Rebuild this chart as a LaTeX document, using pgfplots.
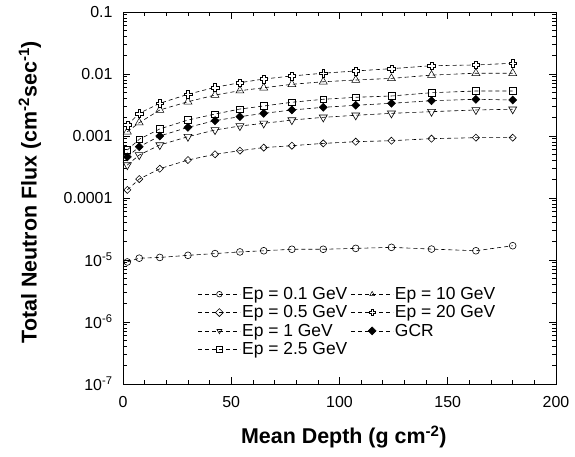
\documentclass[border=0pt]{standalone}
\usepackage{fontspec}
\setmainfont{Liberation Sans}
\usepackage{pgfplots}
\pgfplotsset{compat=1.18}

% open plus-shaped mark
\pgfdeclareplotmark{ocross}{%
  \pgfpathmoveto{\pgfqpoint{-0.38\pgfplotmarksize}{\pgfplotmarksize}}%
  \pgfpathlineto{\pgfqpoint{0.38\pgfplotmarksize}{\pgfplotmarksize}}%
  \pgfpathlineto{\pgfqpoint{0.38\pgfplotmarksize}{0.38\pgfplotmarksize}}%
  \pgfpathlineto{\pgfqpoint{\pgfplotmarksize}{0.38\pgfplotmarksize}}%
  \pgfpathlineto{\pgfqpoint{\pgfplotmarksize}{-0.38\pgfplotmarksize}}%
  \pgfpathlineto{\pgfqpoint{0.38\pgfplotmarksize}{-0.38\pgfplotmarksize}}%
  \pgfpathlineto{\pgfqpoint{0.38\pgfplotmarksize}{-\pgfplotmarksize}}%
  \pgfpathlineto{\pgfqpoint{-0.38\pgfplotmarksize}{-\pgfplotmarksize}}%
  \pgfpathlineto{\pgfqpoint{-0.38\pgfplotmarksize}{-0.38\pgfplotmarksize}}%
  \pgfpathlineto{\pgfqpoint{-\pgfplotmarksize}{-0.38\pgfplotmarksize}}%
  \pgfpathlineto{\pgfqpoint{-\pgfplotmarksize}{0.38\pgfplotmarksize}}%
  \pgfpathlineto{\pgfqpoint{-0.38\pgfplotmarksize}{0.38\pgfplotmarksize}}%
  \pgfpathclose
  \pgfusepathqfillstroke
}

\begin{document}
\begin{tikzpicture}
\path[use as bounding box] (0,0) rectangle (575bp,457bp);
\begin{axis}[
  at={(123bp,73bp)}, anchor=south west,
  scale only axis, width=433bp, height=372bp,
  xmin=0, xmax=200,
  ymode=log, ymin=1e-7, ymax=0.1,
  xtick={0,50,100,150,200},
  xticklabels={0,50,100,150,200},
  minor x tick num=4,
  ytick={1e-7,1e-6,1e-5,1e-4,1e-3,1e-2,1e-1},
  yticklabels={10\textsuperscript{-7},10\textsuperscript{-6},10\textsuperscript{-5},0.0001,0.001,0.01,0.1},
  minor ytick={2e-7,3e-7,4e-7,5e-7,6e-7,7e-7,8e-7,9e-7,
    2e-6,3e-6,4e-6,5e-6,6e-6,7e-6,8e-6,9e-6,
    2e-5,3e-5,4e-5,5e-5,6e-5,7e-5,8e-5,9e-5,
    2e-4,3e-4,4e-4,5e-4,6e-4,7e-4,8e-4,9e-4,
    2e-3,3e-3,4e-3,5e-3,6e-3,7e-3,8e-3,9e-3,
    2e-2,3e-2,4e-2,5e-2,6e-2,7e-2,8e-2,9e-2},
  tick align=inside,
  major tick length=7bp, minor tick length=4bp,
  axis line style={line width=0.9pt},
  every tick/.style={black, line width=0.7pt},
  tick label style={font=\fontsize{16}{18}\selectfont},
  xticklabel style={yshift=-9bp},
  yticklabel style={xshift=-7bp},
  xlabel={\textbf{Mean Depth (g cm\textsuperscript{-2})}},
  ylabel={\textbf{Total Neutron Flux (cm\textsuperscript{-2}sec\textsuperscript{-1})}},
  label style={font=\fontsize{21.5}{24}\selectfont},
  xlabel style={at={(axis description cs:0.51,-0.142)}, anchor=center},
  ylabel style={at={(axis description cs:-0.215,0.516)}, anchor=center},
  legend columns=2,
  legend cell align=left,
  legend style={at={(axis description cs:0.173,0.262)}, anchor=north west,
    draw=none, fill=none, inner sep=0pt,
    font=\fontsize{17.5}{18}\selectfont,
    nodes={inner xsep=1.5bp, inner ysep=0.6bp},
    row sep=3.5bp,
    /tikz/every even column/.append style={column sep=2bp}},
  legend image code/.code={%
    \draw[mark repeat=2,mark phase=2,mark size=2.8bp]
      plot coordinates {(0bp,0bp) (21bp,0bp) (42bp,0bp)};},
  every axis plot/.append style={black, line width=0.6pt,
    dash pattern=on 4bp off 3bp,
    mark options={solid, fill=white, line width=0.5pt}},
]
\addplot[mark=o, mark size=3.4bp, mark options={solid, fill=white}] coordinates {
  (2,9.3e-6) (7.5,1.07e-5) (17,1.1e-5) (30,1.19e-5) (42.5,1.27e-5) (54,1.35e-5)
  (65,1.41e-5) (78,1.49e-5) (92.5,1.49e-5) (107.5,1.54e-5) (124,1.6e-5)
  (142.5,1.5e-5) (163,1.41e-5) (180,1.7e-5)};
\addlegendentry{Ep = 0.1 GeV}
\addplot[mark=triangle, mark size=4.6bp] coordinates {
  (2,1.17e-3) (7.5,1.64e-3) (17,2.63e-3) (30,3.57e-3) (42.5,4.58e-3) (54,5.38e-3)
  (65,6.0e-3) (78,6.82e-3) (92.5,7.5e-3) (107.5,8.0e-3) (124,8.5e-3)
  (142.5,9.6e-3) (163,1.03e-2) (180,1.03e-2)};
\addlegendentry{Ep = 10 GeV}
\addplot[mark=square, mark size=2.5bp, mark options={solid, fill=white, rotate=45}] coordinates {
  (2,1.35e-4) (7.5,2.02e-4) (17,2.97e-4) (30,4.1e-4) (42.5,5.07e-4) (54,5.8e-4)
  (65,6.5e-4) (78,6.98e-4) (92.5,7.6e-4) (107.5,8.1e-4) (124,8.4e-4)
  (142.5,9.06e-4) (163,9.4e-4) (180,9.4e-4)};
\addlegendentry{Ep = 0.5 GeV}
\addplot[mark=ocross, mark size=3.8bp] coordinates {
  (2,1.5e-3) (7.5,2.32e-3) (17,3.37e-3) (30,4.71e-3) (42.5,6.1e-3) (54,7.24e-3)
  (65,8.3e-3) (78,9.3e-3) (92.5,1.03e-2) (107.5,1.12e-2) (124,1.22e-2)
  (142.5,1.36e-2) (163,1.4e-2) (180,1.49e-2)};
\addlegendentry{Ep = 20 GeV}
\addplot[mark=triangle, mark size=4.6bp, mark options={solid, fill=white, rotate=180}] coordinates {
  (2,3.4e-4) (7.5,4.94e-4) (17,7.16e-4) (30,9.75e-4) (42.5,1.25e-3) (54,1.45e-3)
  (65,1.6e-3) (78,1.81e-3) (92.5,2.0e-3) (107.5,2.16e-3) (124,2.32e-3)
  (142.5,2.47e-3) (163,2.63e-3) (180,2.7e-3)};
\addlegendentry{Ep = 1 GeV}
\addplot[mark=square*, mark size=2.8bp, mark options={solid, fill=black, rotate=45}] coordinates {
  (2,4.6e-4) (7.5,6.72e-4) (17,1.0e-3) (30,1.38e-3) (42.5,1.77e-3) (54,2.05e-3)
  (65,2.32e-3) (78,2.63e-3) (92.5,2.9e-3) (107.5,3.13e-3) (124,3.37e-3)
  (142.5,3.71e-3) (163,3.91e-3) (180,3.81e-3)};
\addlegendentry{GCR}
\addplot[mark=square, mark size=3.3bp] coordinates {
  (2,5.95e-4) (7.5,8.85e-4) (17,1.30e-3) (30,1.81e-3) (42.5,2.26e-3) (54,2.72e-3)
  (65,3.05e-3) (78,3.5e-3) (92.5,3.91e-3) (107.5,4.21e-3) (124,4.42e-3)
  (142.5,4.99e-3) (163,5.32e-3) (180,5.32e-3)};
\addlegendentry{Ep = 2.5 GeV}
\end{axis}
\end{tikzpicture}
\end{document}
